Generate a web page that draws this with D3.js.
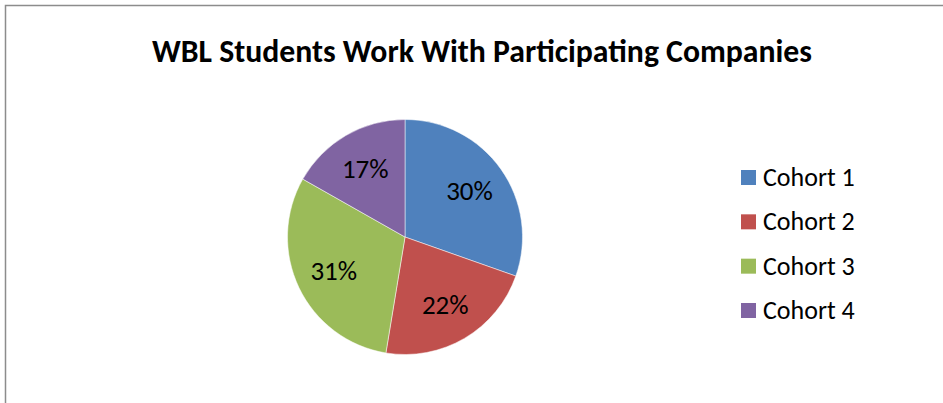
<!DOCTYPE html>
<html>
<head>
<meta charset="utf-8">
<script src="https://cdn.jsdelivr.net/npm/d3@7"></script>
<style>
  body { margin: 0; background: #fff; }
  text { font-family: Carlito, "Open Sans", "Liberation Sans", sans-serif; }
</style>
</head>
<body>
<svg width="943" height="403"></svg>
<script>
var cohorts = ['Cohort 1', 'Cohort 2', 'Cohort 3', 'Cohort 4'];
var shares = [30.4, 22.2, 30.6, 16.8];
var colors = ['#4F81BD', '#C0504D', '#9BBB59', '#8064A2'];
var title = 'WBL Students Work With Participating Companies';

var svg = d3.select('svg');

// chart frame (cut off at the right and bottom)
svg.append('path')
    .attr('d', 'M5.5,403 V5.5 H943')
    .attr('fill', 'none')
    .attr('stroke', '#8c8c8c')
    .attr('stroke-width', 1.5);

svg.append('text')
    .attr('x', 482)
    .attr('y', 62)
    .attr('text-anchor', 'middle')
    .attr('font-size', 32)
    .attr('font-weight', 'bold')
    .attr('textLength', 660)
    .attr('lengthAdjust', 'spacingAndGlyphs')
    .text(title);

var cx = 405, cy = 237, radius = 117.5;
var pieG = svg.append('g').attr('transform', 'translate(' + [cx, cy] + ')');

var pie = d3.pie().sort(null).value(function(d) { return d; });
var arcs = pie(shares);
var arc = d3.arc().innerRadius(0).outerRadius(radius);
var labelArc = d3.arc().innerRadius(79).outerRadius(79);
var total = d3.sum(shares);

pieG.selectAll('.slice')
    .data(arcs)
    .enter().append('path')
    .attr('class', 'slice')
    .attr('d', arc)
    .attr('fill', function(d, i) { return colors[i]; })
    .attr('stroke', '#fff')
    .attr('stroke-width', 0.5);

pieG.selectAll('.pct')
    .data(arcs)
    .enter().append('text')
    .attr('class', 'pct')
    .attr('transform', function(d) { return 'translate(' + labelArc.centroid(d) + ')'; })
    .attr('text-anchor', 'middle')
    .attr('dy', '0.33em')
    .attr('font-size', 27)
    .attr('fill', '#000')
    .text(function(d) { return Math.round(d.value / total * 100) + '%'; });

// legend
var legendY = d3.scalePoint().domain(cohorts).range([178, 311]);
var legend = svg.selectAll('.legend')
    .data(cohorts)
    .enter().append('g')
    .attr('class', 'legend')
    .attr('transform', function(d) { return 'translate(741,' + legendY(d) + ')'; });

legend.append('rect')
    .attr('x', 0)
    .attr('y', -8)
    .attr('width', 15)
    .attr('height', 15)
    .attr('fill', function(d, i) { return colors[i]; });

legend.append('text')
    .attr('x', 22)
    .attr('y', 8)
    .attr('font-size', 26)
    .attr('fill', '#000')
    .text(function(d) { return d; });
</script>
</body>
</html>
